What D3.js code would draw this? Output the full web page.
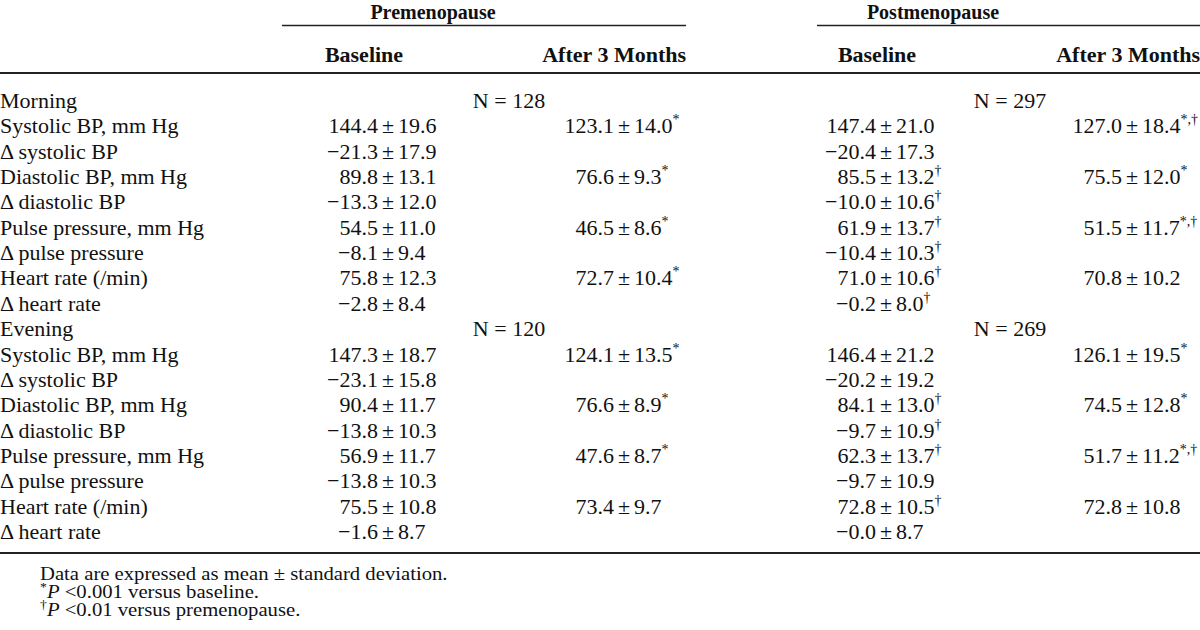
<!DOCTYPE html>
<html>
<head>
<meta charset="utf-8">
<script src="https://cdn.jsdelivr.net/npm/d3@7/dist/d3.min.js"></script>
<style>
  html, body { margin: 0; padding: 0; background: #fff; }
  svg { display: block; }
  text { font-family: "Liberation Serif", "Times New Roman", serif; fill: #111; }
</style>
</head>
<body>
<svg id="chart" width="1200" height="630"></svg>
<script>
// ---------- DATA ----------
const groups = ["Premenopause", "Postmenopause"];
const columns = ["Baseline", "After 3 Months", "Baseline", "After 3 Months"];
const rowLabels = [
  "Morning", "Systolic BP, mm Hg", "Δ systolic BP", "Diastolic BP, mm Hg", "Δ diastolic BP",
  "Pulse pressure, mm Hg", "Δ pulse pressure", "Heart rate (/min)", "Δ heart rate",
  "Evening", "Systolic BP, mm Hg", "Δ systolic BP", "Diastolic BP, mm Hg", "Δ diastolic BP",
  "Pulse pressure, mm Hg", "Δ pulse pressure", "Heart rate (/min)", "Δ heart rate"
];
const sectionRows = [0, 9];
const preN = ["N = 128", "N = 120"];
const postN = ["N = 297", "N = 269"];

const preBaseline = [null, "144.4 ± 19.6", "−21.3 ± 17.9", "89.8 ± 13.1", "−13.3 ± 12.0", "54.5 ± 11.0", "−8.1 ± 9.4", "75.8 ± 12.3", "−2.8 ± 8.4",
  null, "147.3 ± 18.7", "−23.1 ± 15.8", "90.4 ± 11.7", "−13.8 ± 10.3", "56.9 ± 11.7", "−13.8 ± 10.3", "75.5 ± 10.8", "−1.6 ± 8.7"];
const preBaselineSup = ["", "", "", "", "", "", "", "", "", "", "", "", "", "", "", "", "", ""];

const preAfter = [null, "123.1 ± 14.0", null, "76.6 ± 9.3", null, "46.5 ± 8.6", null, "72.7 ± 10.4", null,
  null, "124.1 ± 13.5", null, "76.6 ± 8.9", null, "47.6 ± 8.7", null, "73.4 ± 9.7", null];
const preAfterSup = ["", "*", "", "*", "", "*", "", "*", "", "", "*", "", "*", "", "*", "", "", ""];

const postBaseline = [null, "147.4 ± 21.0", "−20.4 ± 17.3", "85.5 ± 13.2", "−10.0 ± 10.6", "61.9 ± 13.7", "−10.4 ± 10.3", "71.0 ± 10.6", "−0.2 ± 8.0",
  null, "146.4 ± 21.2", "−20.2 ± 19.2", "84.1 ± 13.0", "−9.7 ± 10.9", "62.3 ± 13.7", "−9.7 ± 10.9", "72.8 ± 10.5", "−0.0 ± 8.7"];
const postBaselineSup = ["", "", "", "†", "†", "†", "†", "†", "†", "", "", "", "†", "†", "†", "", "†", ""];

const postAfter = [null, "127.0 ± 18.4", null, "75.5 ± 12.0", null, "51.5 ± 11.7", null, "70.8 ± 10.2", null,
  null, "126.1 ± 19.5", null, "74.5 ± 12.8", null, "51.7 ± 11.2", null, "72.8 ± 10.8", null];
const postAfterSup = ["", "*,†", "", "*", "", "*,†", "", "", "", "", "*", "", "*", "", "*,†", "", "", ""];

const footnotes = [
  { sup: "", italicP: false, text: "Data are expressed as mean ± standard deviation." },
  { sup: "*", italicP: true, text: " <0.001 versus baseline." },
  { sup: "†", italicP: true, text: " <0.01 versus premenopause." }
];

// ---------- LAYOUT ----------
const svg = d3.select("#chart");
const W = 1200;
const FS = 22;

const y = d3.scalePoint()
  .domain(d3.range(rowLabels.length))
  .range([108, 108 + 25.35 * (rowLabels.length - 1)]);

// column pm-sign centres
const colPM = [388, 624, 886, 1132];
const PMGAP = 10;
const colHeaderX = [364, 686, 877, 1200];
const colHeaderAnchor = ["middle", "end", "middle", "end"];

// group headers
const groupSpans = [[282, 686], [817, 1200]];
const groupCenters = [433, 933];
svg.selectAll("text.group").data(groups).join("text")
  .attr("class", "group")
  .attr("x", (d, i) => groupCenters[i])
  .attr("y", 19)
  .attr("text-anchor", "middle")
  .attr("font-size", 20)
  .attr("font-weight", "bold")
  .text(d => d);

svg.selectAll("line.grp").data(groupSpans).join("line")
  .attr("class", "grp")
  .attr("x1", d => d[0]).attr("x2", d => d[1])
  .attr("y1", 25.5).attr("y2", 25.5)
  .attr("stroke", "#222").attr("stroke-width", 1.5);

svg.selectAll("text.colhdr").data(columns).join("text")
  .attr("class", "colhdr")
  .attr("x", (d, i) => colHeaderX[i])
  .attr("y", 62)
  .attr("text-anchor", (d, i) => colHeaderAnchor[i])
  .attr("font-size", FS)
  .attr("font-weight", "bold")
  .text(d => d);

// rules
[[73, 2], [553, 2]].forEach(([yy, sw]) => {
  svg.append("line").attr("x1", 0).attr("x2", W).attr("y1", yy).attr("y2", yy)
    .attr("stroke", "#222").attr("stroke-width", sw);
});

// row labels
svg.selectAll("text.rowlab").data(rowLabels).join("text")
  .attr("class", "rowlab")
  .attr("x", 0)
  .attr("y", (d, i) => y(i))
  .attr("font-size", FS)
  .text(d => d);

// N labels
sectionRows.forEach((r, k) => {
  svg.append("text").attr("x", 509).attr("y", y(r)).attr("text-anchor", "middle")
    .attr("font-size", FS).text(preN[k]);
  svg.append("text").attr("x", 1010).attr("y", y(r)).attr("text-anchor", "middle")
    .attr("font-size", FS).text(postN[k]);
});

// value cells
const cols = [
  [preBaseline, preBaselineSup],
  [preAfter, preAfterSup],
  [postBaseline, postBaselineSup],
  [postAfter, postAfterSup]
];
cols.forEach(([vals, sups], c) => {
  const cells = vals.map((v, i) => ({ v, s: sups[i], i })).filter(d => d.v);
  const g = svg.append("g");
  cells.forEach(d => {
    const [mean, sd] = d.v.split(" ± ");
    const yy = y(d.i);
    const px = colPM[c];
    g.append("text").attr("x", px - PMGAP).attr("y", yy).attr("text-anchor", "end")
      .attr("font-size", FS).text(mean);
    g.append("text").attr("x", px).attr("y", yy).attr("text-anchor", "middle")
      .attr("font-size", FS).text("±");
    const t = g.append("text").attr("x", px + PMGAP).attr("y", yy).attr("text-anchor", "start")
      .attr("font-size", FS);
    t.append("tspan").text(sd);
    if (d.s) {
      t.append("tspan").attr("font-size", 14).attr("dy", -9).text(d.s);
    }
  });
});

// footnotes (slightly widened serif, tight leading as in the reference)
const fy = [580, 598, 616];
footnotes.forEach((f, i) => {
  const t = svg.append("text").attr("x", 0).attr("y", 0).attr("font-size", 18)
    .attr("transform", `translate(40,${fy[i]}) scale(1.15,1)`);
  if (f.sup) t.append("tspan").attr("font-size", 12).attr("dy", -7).text(f.sup);
  if (f.italicP) t.append("tspan").attr("font-style", "italic").attr("dy", f.sup ? 7 : 0).text("P");
  t.append("tspan").text(f.text);
});
</script>
</body>
</html>
